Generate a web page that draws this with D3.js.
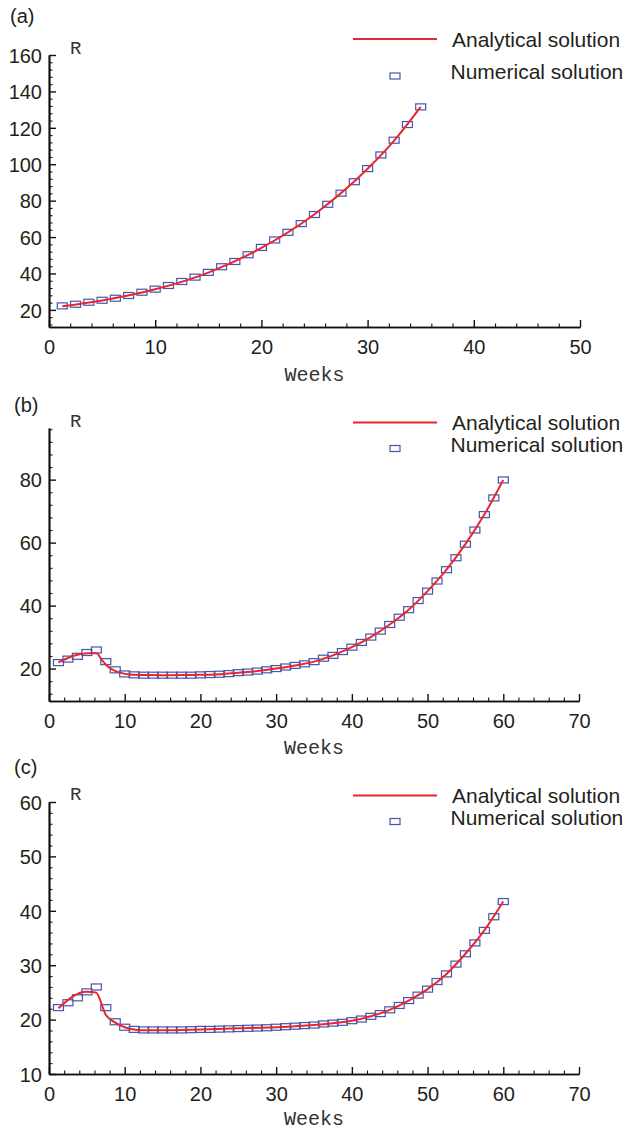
<!DOCTYPE html>
<html>
<head>
<meta charset="utf-8">
<script src="https://cdn.jsdelivr.net/npm/d3@7"></script>
<style>
  body { margin: 0; background: #fff; }
  svg { display: block; }
  .tick text { font-family: "Liberation Sans", Arial, sans-serif; font-size: 20px; fill: #231f20; }
  .domain { stroke: #111; stroke-width: 1.7px; }
  .major line { stroke: #111; stroke-width: 1.4px; }
  .minor line { stroke: #111; stroke-width: 1.1px; }
</style>
</head>
<body>
<svg id="chart" width="626" height="1132"></svg>
<script>
// weeks at which the numerical solution is plotted
const weeksA = [1.25, 2.5, 3.75, 5, 6.25, 7.5, 8.75, 10, 11.25, 12.5, 13.75, 15, 16.25, 17.5,
  18.75, 20, 21.25, 22.5, 23.75, 25, 26.25, 27.5, 28.75, 30, 31.25, 32.5, 33.75, 35];
const weeksBC = [1.25, 2.5, 3.75, 5, 6.25, 7.5, 8.75, 10, 11.25, 12.5, 13.75, 15, 16.25, 17.5,
  18.75, 20, 21.25, 22.5, 23.75, 25, 26.25, 27.5, 28.75, 30, 31.25, 32.5, 33.75, 35, 36.25,
  37.5, 38.75, 40, 41.25, 42.5, 43.75, 45, 46.25, 47.5, 48.75, 50, 51.25, 52.5, 53.75, 55,
  56.25, 57.5, 58.75, 60];

// numerical solution R
const numericalA = [22.2, 23.1, 24.2, 25.3, 26.4, 27.9, 29.7, 31.4, 33.4, 35.6, 38.0, 40.6,
  43.7, 46.6, 50.3, 54.3, 58.4, 62.6, 67.4, 72.4, 78.0, 84.1, 90.4, 97.6, 105.1, 113.2, 121.8, 131.5];
const numericalB = [21.9, 23.0, 23.9, 25.1, 25.9, 22.2, 19.6, 18.3, 18.0, 17.9, 17.9, 17.9,
  17.9, 17.9, 17.9, 18.0, 18.1, 18.2, 18.4, 18.7, 18.9, 19.2, 19.6, 20.0, 20.5, 21.0, 21.5,
  22.2, 23.3, 24.2, 25.4, 26.8, 28.3, 30.0, 31.9, 34.0, 36.3, 38.7, 41.6, 44.6, 47.8, 51.4,
  55.2, 59.5, 64.0, 68.9, 74.2, 79.9];
const numericalC = [22.2, 23.1, 24.0, 25.1, 26.0, 22.2, 19.6, 18.6, 18.2, 18.1, 18.1, 18.1,
  18.1, 18.1, 18.15, 18.2, 18.2, 18.25, 18.3, 18.35, 18.4, 18.45, 18.5, 18.6, 18.7, 18.8, 18.9,
  19.0, 19.2, 19.35, 19.5, 19.8, 20.1, 20.6, 21.1, 21.8, 22.6, 23.5, 24.5, 25.6, 27.0, 28.4,
  30.2, 32.1, 34.1, 36.4, 38.9, 41.7];

// analytical solution, [week, R] pairs
const analyticalA = [[1.25, 22.0], [5, 25.2], [10, 31.3], [15, 40.5], [20, 54.0], [25, 72.5],
  [30, 97.5], [32.5, 113.0], [35, 131.5]];
const analyticalB = [[1.25, 22.0], [5.06, 24.9], [6.29, 24.9], [6.95, 22.8], [7.52, 21.2],
  [8.27, 19.8], [9.37, 18.7], [10.7, 18.1], [12.5, 17.95], [15, 17.9], [17.5, 17.95], [20, 18.0],
  [22.5, 18.2], [25, 18.7], [27.5, 19.2], [30, 20.0], [32.5, 21.0], [35, 22.2], [37.5, 24.2],
  [40, 26.8], [42.5, 30.0], [45, 34.0], [47.5, 38.7], [50, 44.6], [52.5, 51.4], [55, 59.5],
  [57.5, 68.9], [60, 79.9]];
const analyticalC = [[1.25, 22.1], [4.9, 25.1], [6.2, 25.0], [7.5, 20.9], [8.7, 19.5],
  [10.0, 18.6], [11.4, 18.15], [12.5, 18.05], [15, 18.05], [20, 18.2], [25, 18.4], [30, 18.6],
  [35, 19.0], [37.5, 19.35], [40, 19.8], [42.5, 20.6], [45, 21.8], [47.5, 23.5], [50, 25.6],
  [52.5, 28.4], [55, 32.1], [57.5, 36.4], [60, 41.7]];

// tick labels
const xTicksA = [0, 10, 20, 30, 40, 50];
const xTicksBC = [0, 10, 20, 30, 40, 50, 60, 70];
const yTicksA = [20, 40, 60, 80, 100, 120, 140, 160];
const yTicksB = [20, 40, 60, 80];
const yTicksC = [10, 20, 30, 40, 50, 60];

const legendLabels = ["Analytical solution", "Numerical solution"];

const RED = "#e8262b";
const BLUE = "#4455ad";

const svg = d3.select("#chart");

const panels = [
  { label: "(a)", labelX: 10, labelY: 23, top: 55, bottom: 327, right: 580,
    xDomain: [0, 50], yDomain: [10.6, 160], xTicks: xTicksA, yTicks: yTicksA,
    xMinor: 2, yMinor: 4, xMajor: 10, yMajor: 20,
    weeks: weeksA, num: numericalA, ana: analyticalA, rY: 54, weeksY: 381, legendY: 39 },
  { label: "(b)", labelX: 14, labelY: 412, top: 428, bottom: 701, right: 579,
    xDomain: [0, 70], yDomain: [9.7, 96.4], xTicks: xTicksBC, yTicks: yTicksB,
    xMinor: 2, yMinor: 4, xMajor: 10, yMajor: 20,
    weeks: weeksBC, num: numericalB, ana: analyticalB, rY: 427, weeksY: 754, legendY: 422.5 },
  { label: "(c)", labelX: 14, labelY: 774, top: 802, bottom: 1074, right: 579,
    xDomain: [0, 70], yDomain: [10, 60], xTicks: xTicksBC, yTicks: yTicksC,
    xMinor: 2, yMinor: 2, xMajor: 10, yMajor: 10,
    weeks: weeksBC, num: numericalC, ana: analyticalC, rY: 800, weeksY: 1125, legendY: 795.5 }
];

function minorTicks(domain, step, major) {
  const lo = Math.ceil(domain[0] / step) * step;
  return d3.range(lo, domain[1] + 1e-9, step)
    .filter((v) => Math.abs(v / major - Math.round(v / major)) > 1e-6);
}

function drawPanel(p) {
  const left = 49;
  const g = svg.append("g");
  const x = d3.scaleLinear().domain(p.xDomain).range([left, p.right]);
  const y = d3.scaleLinear().domain(p.yDomain).range([p.bottom, p.top]);

  // panel letter
  g.append("text")
    .attr("x", p.labelX).attr("y", p.labelY)
    .style("font-family", "Liberation Sans, Arial, sans-serif")
    .style("font-size", "20px").style("fill", "#231f20")
    .text(p.label);

  // axes: minor ticks then major ticks, all pointing inward
  g.append("g").attr("class", "minor")
    .attr("transform", `translate(0,${p.bottom})`)
    .call(d3.axisBottom(x).tickValues(minorTicks(p.xDomain, p.xMinor, p.xMajor))
      .tickSize(-3.5).tickSizeOuter(0).tickFormat(""));
  g.append("g").attr("class", "major")
    .attr("transform", `translate(0,${p.bottom})`)
    .call(d3.axisBottom(x).tickValues(p.xTicks).tickSize(-7).tickSizeOuter(0).tickPadding(13));

  g.append("g").attr("class", "minor")
    .attr("transform", `translate(${left},0)`)
    .call(d3.axisLeft(y).tickValues(minorTicks(p.yDomain, p.yMinor, p.yMajor))
      .tickSize(-3.5).tickSizeOuter(0).tickFormat(""));
  g.append("g").attr("class", "major")
    .attr("transform", `translate(${left},0)`)
    .call(d3.axisLeft(y).tickValues(p.yTicks).tickSize(-7).tickSizeOuter(0).tickPadding(7));

  g.selectAll(".tick text").attr("dy", function () {
    return d3.select(this.parentNode.parentNode).attr("transform").startsWith("translate(0") ? "0.71em" : "0.36em";
  });

  // axis titles
  g.append("text")
    .attr("x", 70).attr("y", p.rY)
    .style("font-family", "'Courier New', 'Liberation Mono', monospace")
    .style("font-size", "19px").style("fill", "#333")
    .text("R");
  g.append("text")
    .attr("x", (left + p.right) / 2).attr("y", p.weeksY)
    .attr("text-anchor", "middle")
    .style("font-family", "'Courier New', 'Liberation Mono', monospace")
    .style("font-size", "20px").style("fill", "#333")
    .text("Weeks");

  // numerical solution squares
  g.append("g").selectAll("rect")
    .data(p.weeks.map((w, i) => [w, p.num[i]]))
    .join("rect")
    .attr("x", (d) => x(d[0]) - 5)
    .attr("y", (d) => y(d[1]) - 3)
    .attr("width", 10).attr("height", 6)
    .attr("fill", "none").attr("stroke", BLUE).attr("stroke-width", 1.2);

  // analytical solution curve
  const line = d3.line().x((d) => x(d[0])).y((d) => y(d[1])).curve(d3.curveMonotoneX);
  g.append("path")
    .datum(p.ana)
    .attr("d", line)
    .attr("fill", "none").attr("stroke", RED).attr("stroke-width", 2);

  // legend
  const lg = g.append("g").style("font-family", "Liberation Sans, Arial, sans-serif")
    .style("font-size", "21px").style("fill", "#231f20");
  lg.append("line")
    .attr("x1", 353).attr("x2", 437).attr("y1", p.legendY).attr("y2", p.legendY)
    .attr("stroke", RED).attr("stroke-width", 2);
  lg.append("text").attr("x", 452).attr("y", p.legendY + 7.5).text(legendLabels[0]);
  lg.append("rect")
    .attr("x", 390).attr("y", p.legendY + 34 - 3 - (p.label === "(a)" ? -3 : 8))
    .attr("width", 10).attr("height", 6)
    .attr("fill", "none").attr("stroke", BLUE).attr("stroke-width", 1.2);
  lg.append("text").attr("x", 450.5)
    .attr("y", p.legendY + (p.label === "(a)" ? 40 : 29.5))
    .text(legendLabels[1]);
}

panels.forEach(drawPanel);
</script>
</body>
</html>
